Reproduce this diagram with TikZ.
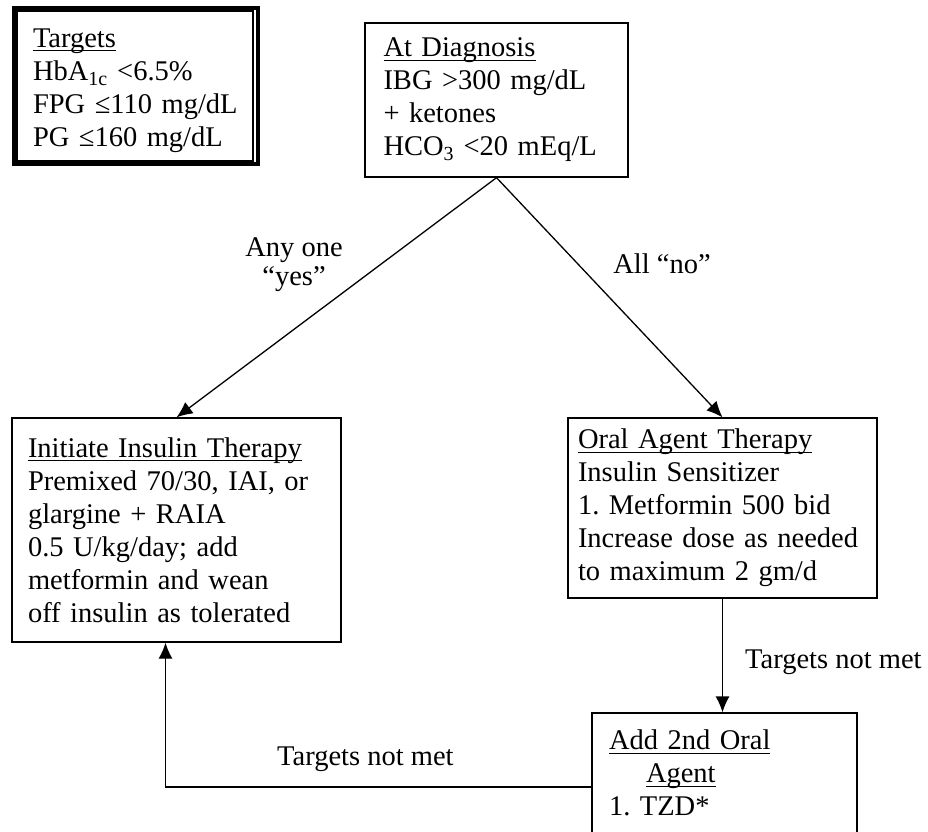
\documentclass[tikz,border=0pt]{standalone}
\usepackage{fontspec}
\setmainfont{Liberation Serif}
\usepackage{tikz}
\usetikzlibrary{arrows.meta}
\usetikzlibrary{calc}
\newcommand{\hdr}[1]{\setbox0\hbox{#1}\rlap{\rule[-4pt]{\wd0}{1.2pt}}\box0}
\frenchspacing

\begin{document}
\begin{tikzpicture}[x=1pt,y=-1pt]
  \tikzset{>={Latex[length=16pt,width=14pt]}}
  \tikzstyle{box}=[draw,rectangle,line width=1.3pt,align=left,inner ysep=0pt,font=\fontsize{28.5}{33}\selectfont]
  \tikzstyle{note}=[inner sep=0pt,font=\fontsize{28.5}{33}\selectfont]
  \tikzstyle{flow}=[->,line width=1.3pt]

  \useasboundingbox (0,0) rectangle (928,831);

  % BOXES
  \node[box,line width=4pt,minimum width=244,minimum height=156,text width=206,inner xsep=19] (targets) at (136,86)
  {\hdr{Targets}\rule{0pt}{28pt}\\HbA\textsubscript{1c} <6.5\%\\FPG ≤110 mg/dL\\PG ≤160 mg/dL};
  \draw[line width=1.2pt] ([shift={(5,5)}]targets.north west) rectangle ([shift={(-7,-5)}]targets.south east);

  \node[box,minimum width=263,minimum height=154,text width=226,inner xsep=18] (diag) at (496.5,100)
  {\hdr{At Diagnosis}\\IBG >300 mg/dL\\+ ketones\\HCO\textsubscript{3} <20 mEq/L};

  \node[box,minimum width=329,minimum height=224,text width=297,inner xsep=16] (insulin) at (176.5,530)
  {\hdr{Initiate Insulin Therapy}\\Premixed 70/30, IAI, or\\glargine + RAIA\\0.5 U/kg/day; add\\metformin and wean\\off insulin as tolerated};

  \node[box,minimum width=309,minimum height=180,text width=289,inner xsep=10] (oral) at (722.5,508)
  {\hdr{Oral Agent Therapy}\\Insulin Sensitizer\\1. Metformin 500 bid\\Increase dose as needed\\to maximum 2 gm/d};

  \node[box,minimum width=265,minimum height=120,text width=231,inner xsep=17] (addoral) at (724.5,773)
  {\hdr{Add 2nd Oral}\\\hspace*{37pt}\hdr{Agent}\\1. TZD*};

  % ARROWS
  \draw[flow] (diag.south) -- (insulin.north);
  \draw[flow] (diag.south) -- (oral.north);
  \draw[flow] (oral.south) -- (oral.south |- addoral.north);
  \draw[flow] ([yshift=-14pt]addoral.west) -| ([xshift=-11pt]insulin.south);

  % LABELS
  \node[note,anchor=base] (anyone) at (294,256) {Any one};
  \node[note,anchor=base] (yes) at (294,285) {“yes”};
  \node[note,anchor=base] (allno) at (662,273) {All “no”};
  \node[note,anchor=base west] (notmet) at (745,668) {Targets not met};
  \node[note,anchor=base west] (notmetback) at (277,765) {Targets not met};
\end{tikzpicture}
\end{document}
